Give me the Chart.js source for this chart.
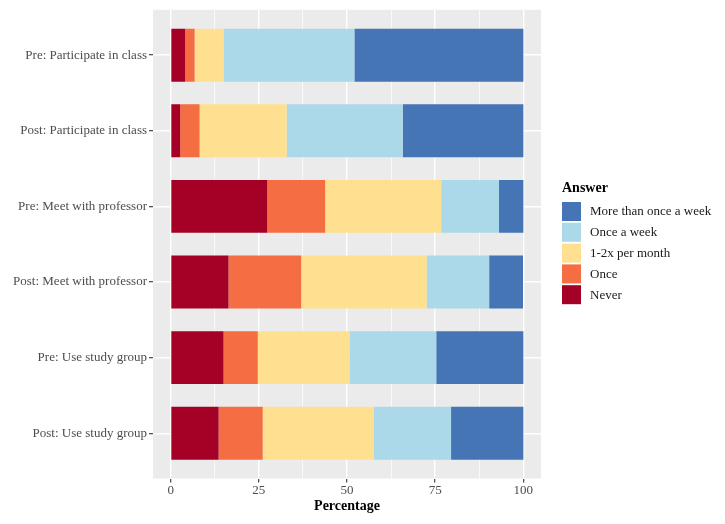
<!DOCTYPE html>
<html>
<head>
<meta charset="utf-8">
<script src="https://cdn.jsdelivr.net/npm/chart.js@4.4.1/dist/chart.umd.min.js"></script>
<style>
  html, body { margin: 0; padding: 0; background: #ffffff; }
  #wrap { width: 725px; height: 524px; position: relative; }
</style>
</head>
<body>
<div id="wrap"><canvas id="chart"></canvas></div>
<script>
// Survey questions, top to bottom
const categories = [
    'Pre: Participate in class',
    'Post: Participate in class',
    'Pre: Meet with professor',
    'Post: Meet with professor',
    'Pre: Use study group',
    'Post: Use study group'
];

// Percentages per answer
const never      = [4.1, 2.7, 27.4, 16.4, 15.0, 13.6];
const once       = [2.7, 5.5, 16.4, 20.6,  9.7, 12.5];
const monthly    = [8.2, 24.7, 32.9, 35.6, 26.0, 31.5];
const weekly     = [37.1, 32.9, 16.4, 17.7, 24.6, 21.9];
const moreWeekly = [47.9, 34.2,  6.9,  9.6, 24.7, 20.5];

const answerLabels = ['Never', 'Once', '1-2x per month', 'Once a week', 'More than once a week'];
const answerColors = ['#A50026', '#F46D43', '#FEE090', '#ABD9E9', '#4575B4'];
const xTicks = [0, 25, 50, 75, 100];

const serif = "'Liberation Serif', 'Times New Roman', serif";

function toPoints(arr) {
    return arr.map((v, i) => ({ x: v, y: i }));
}

const seriesList = [never, once, monthly, weekly, moreWeekly];
const datasets = seriesList.map((arr, i) => ({
    label: answerLabels[i],
    data: toPoints(arr),
    backgroundColor: answerColors[i],
    borderWidth: 0,
    categoryPercentage: 0.7,
    barPercentage: 1.0
}));

// grey panel behind everything
const panelBg = {
    id: 'panelBg',
    beforeDraw(chart) {
        const { ctx, chartArea: a } = chart;
        ctx.save();
        ctx.fillStyle = '#EBEBEB';
        ctx.fillRect(a.left, a.top, a.right - a.left, a.bottom - a.top);
        ctx.restore();
    }
};

// ggplot-like legend on the right, reversed order
const sideLegend = {
    id: 'sideLegend',
    afterDraw(chart) {
        const { ctx } = chart;
        const ds = chart.data.datasets.slice().reverse();
        ctx.save();
        ctx.fillStyle = '#000000';
        ctx.font = `bold 14px ${serif}`;
        ctx.textBaseline = 'middle';
        ctx.textAlign = 'left';
        ctx.fillText('Answer', 562, 188);
        ctx.font = `13px ${serif}`;
        ds.forEach((d, i) => {
            const top = 202 + i * 20.8;
            ctx.fillStyle = d.backgroundColor;
            ctx.fillRect(562, top, 19, 19);
            ctx.fillStyle = '#1A1A1A';
            ctx.fillText(d.label, 590, top + 10);
        });
        ctx.restore();
    }
};

new Chart(document.getElementById('chart'), {
    type: 'bar',
    data: { datasets: datasets },
    options: {
        indexAxis: 'y',
        responsive: true,
        maintainAspectRatio: false,
        animation: false,
        layout: { padding: { top: 9, right: 184, bottom: 5, left: 0 } },
        plugins: {
            legend: { display: false },
            tooltip: { enabled: false }
        },
        scales: {
            x: {
                type: 'linear',
                stacked: true,
                min: -5, max: 105,
                afterBuildTicks: (scale) => {
                    const t = [];
                    for (let k = 0; k < xTicks.length; k++) {
                        t.push({ value: xTicks[k] });
                        if (k < xTicks.length - 1) t.push({ value: (xTicks[k] + xTicks[k + 1]) / 2 });
                    }
                    scale.ticks = t;
                },
                border: { display: false },
                grid: {
                    color: '#FFFFFF',
                    lineWidth: (c) => (c.tick && xTicks.includes(c.tick.value)) ? 1.4 : 0.7,
                    tickColor: (c) => (c.tick && xTicks.includes(c.tick.value)) ? '#333333' : 'rgba(0,0,0,0)',
                    tickWidth: 1.1,
                    tickLength: 4
                },
                ticks: {
                    autoSkip: false,
                    maxRotation: 0,
                    padding: 0,
                    color: '#4D4D4D',
                    font: { family: serif, size: 13 },
                    callback: (v) => xTicks.includes(v) ? String(v) : ''
                },
                title: {
                    display: true,
                    text: 'Percentage',
                    color: '#000000',
                    font: { family: serif, size: 14, weight: 'bold' },
                    padding: { top: 0, bottom: 4 }
                }
            },
            y: {
                type: 'linear',
                stacked: true,
                reverse: true,
                offset: false,
                min: -0.6, max: categories.length - 0.4,
                afterBuildTicks: (scale) => {
                    scale.ticks = categories.map((c, i) => ({ value: i }));
                },
                afterFit: (scale) => { scale.width = 153; },
                border: { display: false },
                grid: {
                    offset: false,
                    color: '#FFFFFF',
                    lineWidth: 1.4,
                    tickColor: '#333333',
                    tickWidth: 1.1,
                    tickLength: 4
                },
                ticks: {
                    autoSkip: false,
                    padding: 2,
                    color: '#4D4D4D',
                    font: { family: serif, size: 13 },
                    callback: (v) => categories[v] !== undefined ? categories[v] : ''
                }
            }
        }
    },
    plugins: [panelBg, sideLegend]
});
</script>
</body>
</html>
